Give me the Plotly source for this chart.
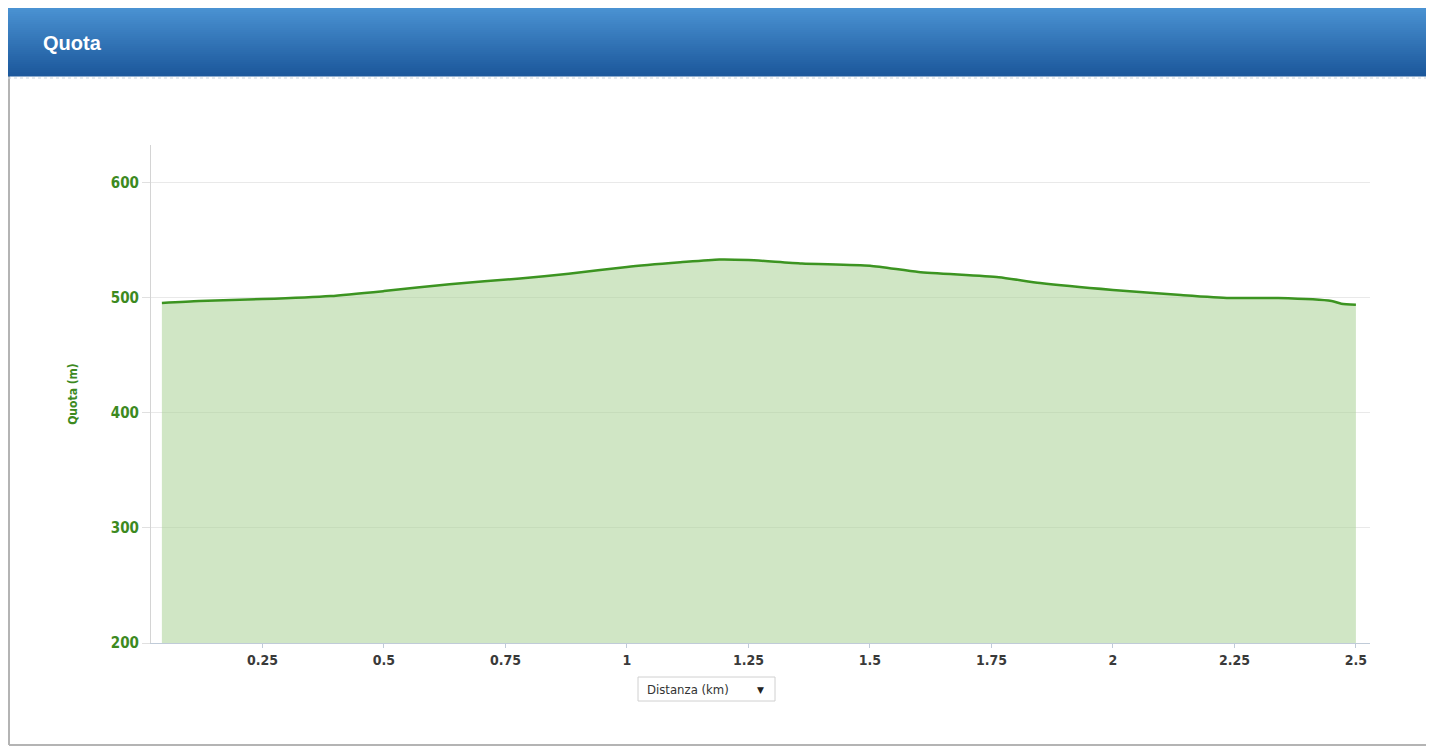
import plotly.graph_objects as go

# ---- data ----
distance_km = [0.043, 0.12, 0.25, 0.39, 0.5, 0.635, 0.78, 0.88, 1.0, 1.11, 1.19, 1.25,
               1.36, 1.5, 1.6, 1.765, 1.85, 2.0, 2.14, 2.24, 2.34, 2.45, 2.47, 2.5]
quota_m = [495.7, 497.4, 499.0, 501.7, 506.0, 512.0, 517.0, 521.0, 527.0, 531.0, 533.5, 533.0,
           530.0, 528.0, 522.6, 518.0, 513.0, 507.0, 502.6, 500.0, 500.0, 497.4, 495.0, 494.0]
x_ticks = [0.25, 0.5, 0.75, 1, 1.25, 1.5, 1.75, 2, 2.25, 2.5]
x_tick_labels = ["0.25", "0.5", "0.75", "1", "1.25", "1.5", "1.75", "2", "2.25", "2.5"]
y_ticks = [200, 300, 400, 500, 600]

OFF = 8  # page body margin
W, H = 1434 - OFF, 748 - OFF
L, R, T, B = 151 - OFF, 1370 - OFF, 145 - OFF, 643 - OFF

def px(x):
    return (x - OFF - L) / (R - L)

def py(y):
    return (B - (y - OFF)) / (B - T)

fig = go.Figure()
fig.add_trace(go.Scatter(
    x=distance_km, y=quota_m, mode="lines",
    line=dict(color="#3c9421", width=2.5, shape="spline", smoothing=0.6),
    fill="tozeroy", fillcolor="rgba(170,209,150,0.55)",
    hoverinfo="x+y", showlegend=False,
))

shapes = []
# panel border lines
for (x0, y0, x1, y1) in [(9, 8, 9, 745), (1428, 8, 1428, 745), (9, 745, 1428, 745)]:
    shapes.append(dict(type="line", xref="paper", yref="paper",
                       x0=px(x0), x1=px(x1), y0=py(y0), y1=py(y1),
                       line=dict(color="#b4b4b4", width=2), layer="below"))
# header gradient stripes
top_c = (74, 146, 210)
bot_c = (28, 88, 156)
n = 34
y_top, y_bot = 8, 76
for i in range(n):
    f = i / (n - 1)
    c = tuple(int(top_c[k] + (bot_c[k] - top_c[k]) * f) for k in range(3))
    ya = y_top + (y_bot - y_top) * i / n
    yb = y_top + (y_bot - y_top) * (i + 1) / n
    shapes.append(dict(type="rect", xref="paper", yref="paper",
                       x0=px(8), x1=px(1429), y0=py(yb + 0.6), y1=py(ya),
                       line=dict(width=0), fillcolor="rgb(%d,%d,%d)" % c, layer="below"))
# dotted line under header
shapes.append(dict(type="line", xref="paper", yref="paper",
                   x0=px(8), x1=px(1429), y0=py(78), y1=py(78),
                   line=dict(color="#c8d4e0", width=1, dash="dot")))
# dropdown box
shapes.append(dict(type="rect", xref="paper", yref="paper",
                   x0=px(638), x1=px(775), y0=py(701), y1=py(677),
                   line=dict(color="#d0d0d0", width=1), fillcolor="white"))

annotations = [
    dict(text="<b>Quota</b>", xref="paper", yref="paper", x=px(41), y=py(43),
         xanchor="left", yanchor="middle", showarrow=False,
         font=dict(family="Liberation Sans, Arial", size=20, color="white")),
    dict(text="Distanza (km)", xref="paper", yref="paper", x=px(645), y=py(689),
         xanchor="left", yanchor="middle", showarrow=False,
         font=dict(family="DejaVu Sans Condensed, DejaVu Sans", size=13, color="#333333")),
    dict(text="▼", xref="paper", yref="paper", x=px(760), y=py(690),
         xanchor="center", yanchor="middle", showarrow=False,
         font=dict(family="DejaVu Sans", size=9, color="#222222")),
]

fig.update_layout(
    width=W, height=H,
    margin=dict(l=L, r=W - R, t=T, b=H - B),
    paper_bgcolor="white", plot_bgcolor="white",
    shapes=shapes, annotations=annotations,
    xaxis=dict(range=[0.0206, 2.529], tickvals=x_ticks, ticktext=x_tick_labels,
               showgrid=False, zeroline=False, showline=True, linecolor="#c0cbd8", linewidth=1,
               ticks="outside", ticklen=4, tickcolor="#c0cbd8",
               tickfont=dict(family="DejaVu Sans Condensed, DejaVu Sans", size=14, color="#3a3a3a", weight="bold")),
    yaxis=dict(range=[200, 633], tickvals=y_ticks,
               showgrid=True, gridcolor="#e9e9e9", gridwidth=1, zeroline=False,
               showline=True, linecolor="#d4d4d4", linewidth=1,
               ticks="outside", ticklen=8, tickcolor="#e0e0e0",
               tickfont=dict(family="DejaVu Sans Condensed, DejaVu Sans", size=15, color="#3d8a1f", weight="bold"),
               title=dict(text="<b>Quota (m)</b>", standoff=30,
                          font=dict(family="DejaVu Sans Condensed, DejaVu Sans", size=12, color="#3d8a1f"))),
)

fig.write_html("out.html", config={"displayModeBar": False})
